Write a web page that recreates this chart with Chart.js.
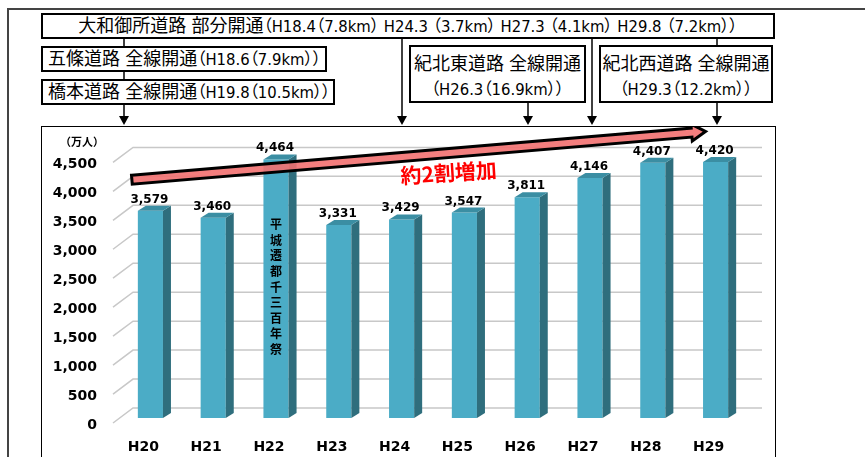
<!DOCTYPE html>
<html>
<head>
<meta charset="utf-8">
<script src="https://cdn.jsdelivr.net/npm/chart.js@4.4.0/dist/chart.umd.min.js"></script>
<style>
html, body { margin: 0; padding: 0; background: #fff; }
body { width: 865px; height: 457px; overflow: hidden; position: relative; }
.frame { position: absolute; left: 7px; top: 8px; width: 900px; height: 500px;
  border-left: 2px solid #444; border-top: 2px solid #444; }
.box { position: absolute; box-sizing: border-box; border: 2px solid #000; background: #fff;
  font-family: "Liberation Sans Narrow", "DejaVu Sans Condensed", "Noto Sans CJK JP", sans-serif;
  font-size: 18px; color: #000; white-space: nowrap; font-feature-settings: "palt"; }
.box .n { font-size: 16.5px; }
#links { position: absolute; left: 0; top: 0; }
#chartBox { position: absolute; left: 41px; top: 126px; width: 735px; height: 345px;
  box-sizing: border-box; border: 1.5px solid #000; }
#wrap { position: absolute; left: 42px; top: 127px; }
#unit { position: absolute; left: 60px; top: 133px; font: bold 11px "Noto Sans CJK JP", sans-serif; }
</style>
</head>
<body>
<div class="frame"></div>

<svg id="links" width="865" height="130">
  <g stroke="#000" stroke-width="1.5">
    <line x1="124" y1="38" x2="124" y2="118"/>
    <line x1="402" y1="38" x2="402" y2="118"/>
    <line x1="528" y1="102" x2="528" y2="118"/>
    <line x1="592" y1="38" x2="592" y2="118"/>
    <line x1="717" y1="38" x2="717" y2="118"/>
  </g>
  <g fill="#000">
    <polygon points="119,116 129,116 124,125"/>
    <polygon points="397,116 407,116 402,125"/>
    <polygon points="523,116 533,116 528,125"/>
    <polygon points="587,116 597,116 592,125"/>
    <polygon points="712,116 722,116 717,125"/>
  </g>
</svg>

<div class="box" style="left:41px;top:13px;width:734px;height:26px;line-height:22px;text-align:center;">大和御所道路 部分開通<span class="n">（H18.4（7.8km） H24.3 （3.7km） H27.3 （4.1km） H29.8 （7.2km））</span></div>
<div class="box" style="left:41px;top:46px;width:286px;height:26px;line-height:22px;padding-left:5px;">五條道路 全線開通<span class="n">（H18.6（7.9km））</span></div>
<div class="box" style="left:41px;top:79px;width:294px;height:26px;line-height:22px;padding-left:5px;">橋本道路 全線開通<span class="n">（H19.8（10.5km））</span></div>
<div class="box" style="left:409px;top:45px;width:177px;height:58px;line-height:25px;padding-top:4px;text-align:center;">紀北東道路 全線開通<br><span class="n">（H26.3（16.9km））</span></div>
<div class="box" style="left:599px;top:45px;width:174px;height:58px;line-height:25px;padding-top:4px;text-align:center;">紀北西道路 全線開通<br><span class="n">（H29.3（12.2km））</span></div>

<div id="chartBox"></div>
<div id="wrap"><canvas id="visitorChart" width="732" height="330"></canvas></div>
<div id="unit">（万人）</div>

<script>
// 観光入込客数（万人）
const years = ['H20', 'H21', 'H22', 'H23', 'H24', 'H25', 'H26', 'H27', 'H28', 'H29'];
const visitors = [3579, 3460, 4464, 3331, 3429, 3547, 3811, 4146, 4407, 4420];
const yMin = 0;
const yMax = 4500;
const yStep = 500;

// annotations
const eventIndex = 2;
const eventLabel = '平城遷都千三百年祭';
const growthLabel = '約2割増加';

const BAR_FRONT = '#4bacc6';
const BAR_SIDE = '#2f6e7d';
const BAR_TOP = '#3b8ea3';
const DEPTH_X = 8, DEPTH_Y = 5;

// pixel for a (fractional) category index
function catPixel(xScale, i) {
    const p0 = xScale.getPixelForValue(0);
    const p1 = xScale.getPixelForValue(1);
    return p0 + i * (p1 - p0);
}

const grid3d = {
    id: 'grid3d',
    beforeDatasetsDraw(chart) {
        const { ctx, chartArea: a, scales: { y } } = chart;
        ctx.save();
        ctx.strokeStyle = '#c8c8c8';
        ctx.lineWidth = 1.5;
        y.ticks.forEach(t => {
            const py = y.getPixelForValue(t.value);
            ctx.beginPath();
            ctx.moveTo(a.left - 6, py + 5);
            ctx.lineTo(a.left + 14, py - 10);
            ctx.lineTo(a.right + 15, py - 10);
            ctx.stroke();
        });
        ctx.restore();
    }
};

const bars3d = {
    id: 'bars3d',
    afterDatasetsDraw(chart) {
        const { ctx, scales: { y } } = chart;
        const meta = chart.getDatasetMeta(0);
        ctx.save();
        meta.data.forEach((bar, i) => {
            const l = bar.x - bar.width / 2, r = bar.x + bar.width / 2;
            const t = bar.y, b = bar.base;
            // side face
            ctx.fillStyle = BAR_SIDE;
            ctx.beginPath();
            ctx.moveTo(r, t);
            ctx.lineTo(r + DEPTH_X, t - DEPTH_Y);
            ctx.lineTo(r + DEPTH_X, b - DEPTH_Y);
            ctx.lineTo(r, b);
            ctx.closePath();
            ctx.fill();
            // top face
            ctx.fillStyle = BAR_TOP;
            ctx.beginPath();
            ctx.moveTo(l, t);
            ctx.lineTo(l + DEPTH_X, t - DEPTH_Y);
            ctx.lineTo(r + DEPTH_X, t - DEPTH_Y);
            ctx.lineTo(r, t);
            ctx.closePath();
            ctx.fill();
            // value label
            ctx.fillStyle = '#000';
            ctx.font = 'bold 12px "DejaVu Sans"';
            ctx.textAlign = 'center';
            ctx.textBaseline = 'alphabetic';
            ctx.fillText(visitors[i].toLocaleString('en-US'), bar.x - 1, t - 8);
        });
        // vertical event text inside the H22 bar
        const ev = meta.data[eventIndex];
        ctx.font = 'bold 12px "Noto Sans CJK JP"';
        ctx.textAlign = 'center';
        ctx.textBaseline = 'middle';
        const startY = y.getPixelForValue(3340);
        [...eventLabel].forEach((ch, k) => {
            ctx.fillText(ch, ev.x, startY + k * 15.6);
        });
        ctx.restore();
    }
};

const growthArrow = {
    id: 'growthArrow',
    afterDraw(chart) {
        const { ctx, scales: { x, y } } = chart;
        const sx = catPixel(x, -0.295), sy = y.getPixelForValue(4116);
        const ex = catPixel(x, 8.84), ey = y.getPixelForValue(4949);
        const L = Math.hypot(ex - sx, ey - sy);
        const ang = Math.atan2(ey - sy, ex - sx);
        ctx.save();
        ctx.translate(sx, sy);
        ctx.rotate(ang);
        ctx.beginPath();
        ctx.moveTo(0, -4.5);
        ctx.lineTo(L - 14, -4.5);
        ctx.lineTo(L - 14, -8.5);
        ctx.lineTo(L, 0);
        ctx.lineTo(L - 14, 8.5);
        ctx.lineTo(L - 14, 4.5);
        ctx.lineTo(0, 4.5);
        ctx.closePath();
        ctx.fillStyle = 'rgba(242, 112, 112, 0.9)';
        ctx.fill();
        ctx.lineWidth = 3;
        ctx.lineJoin = 'miter';
        ctx.strokeStyle = '#000';
        ctx.stroke();
        ctx.restore();

        // label
        ctx.save();
        ctx.translate(catPixel(x, 4.75), y.getPixelForValue(4235));
        ctx.rotate(-3.5 * Math.PI / 180);
        ctx.fillStyle = '#ff0000';
        ctx.font = 'bold 21px "Noto Sans CJK JP"';
        ctx.textAlign = 'center';
        ctx.textBaseline = 'middle';
        ctx.fillText(growthLabel, 0, 0);
        ctx.restore();
    }
};

const ctx = document.getElementById('visitorChart').getContext('2d');
new Chart(ctx, {
    type: 'bar',
    data: {
        labels: years,
        datasets: [{
            label: '観光入込客数',
            data: visitors,
            backgroundColor: BAR_FRONT,
            borderWidth: 0,
            barPercentage: 0.4,
            categoryPercentage: 1.0
        }]
    },
    options: {
        responsive: false,
        animation: false,
        devicePixelRatio: 1,
        layout: { padding: { top: 26, right: 27, left: 0, bottom: 0 } },
        plugins: {
            legend: { display: false },
            tooltip: { enabled: false }
        },
        scales: {
            x: {
                grid: { display: false, drawTicks: false },
                border: { display: false },
                ticks: {
                    color: '#000',
                    font: { family: 'DejaVu Sans', weight: 'bold', size: 14 },
                    padding: 21,
                    labelOffset: -7,
                    maxRotation: 0
                },
                afterFit: scale => { scale.height = 39; }
            },
            y: {
                min: yMin,
                max: yMax,
                grid: { display: false, drawTicks: false },
                border: { display: false },
                ticks: {
                    stepSize: yStep,
                    color: '#000',
                    font: { family: 'DejaVu Sans', weight: 'bold', size: 14 },
                    padding: 22,
                    labelOffset: 7,
                    callback: v => v.toLocaleString('en-US')
                },
                afterFit: scale => { scale.width = 77; }
            }
        }
    },
    plugins: [grid3d, bars3d, growthArrow]
});
</script>
</body>
</html>
